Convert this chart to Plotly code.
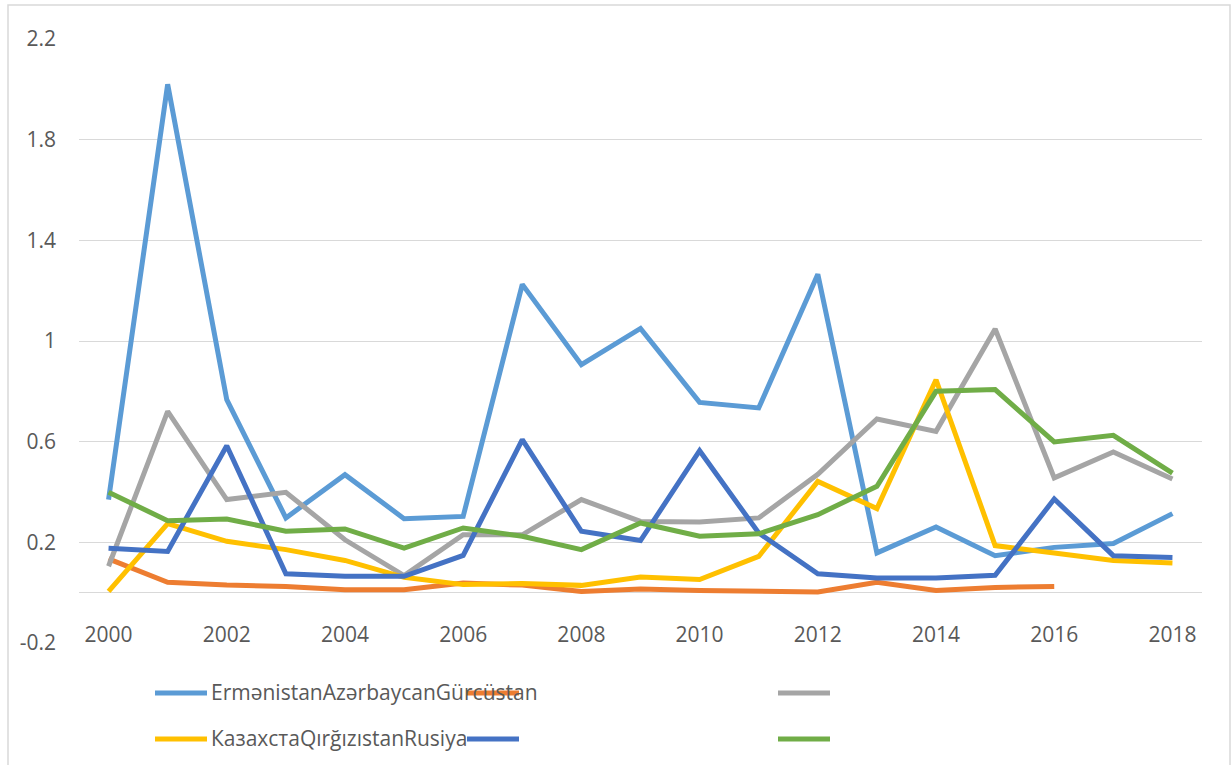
import plotly.graph_objects as go

years = list(range(2000, 2019))

ermenistan = [0.37, 2.02, 0.767, 0.297, 0.469, 0.294, 0.303, 1.225, 0.906, 1.05, 0.756, 0.734,
              1.265, 0.158, 0.261, 0.147, 0.18, 0.195, 0.314]
azerbaycan = [0.134, 0.041, 0.030, 0.025, 0.012, 0.012, 0.038, 0.03, 0.005, 0.015, 0.009, 0.005,
              0.003, 0.041, 0.009, 0.021, 0.025, None, None]
gurcustan = [0.105, 0.72, 0.37, 0.399, 0.21, 0.068, 0.23, 0.23, 0.37, 0.283, 0.281, 0.297,
             0.47, 0.69, 0.641, 1.048, 0.456, 0.559, 0.452]
kazaxstan = [0.005, 0.274, 0.204, 0.171, 0.128, 0.061, 0.032, 0.036, 0.029, 0.062, 0.052, 0.144,
             0.442, 0.334, 0.846, 0.187, 0.158, 0.128, 0.118]
qirgizistan = [0.176, 0.164, 0.584, 0.075, 0.065, 0.065, 0.148, 0.608, 0.244, 0.207, 0.564, 0.237,
               0.075, 0.058, 0.058, 0.069, 0.372, 0.147, 0.140]
rusiya = [0.399, 0.286, 0.293, 0.244, 0.253, 0.177, 0.257, 0.224, 0.171, 0.277, 0.224, 0.234,
          0.31, 0.423, 0.80, 0.807, 0.599, 0.625, 0.475]

y_ticks = [-0.2, 0.2, 0.6, 1, 1.4, 1.8, 2.2]
y_tick_text = ["-0.2", "0.2", "0.6", "1", "1.4", "1.8", "2.2"]
x_ticks = list(range(2000, 2019, 2))

series = [
    ("Ermənistan", ermenistan, "#5B9BD5"),
    ("Azərbaycan", azerbaycan, "#ED7D31"),
    ("Gürcüstan", gurcustan, "#A5A5A5"),
    ("Казахста", kazaxstan, "#FFC000"),
    ("Qırğızıstan", qirgizistan, "#4472C4"),
    ("Rusiya", rusiya, "#70AD47"),
]

FONT = "Open Sans"
TEXT_COLOR = "#595959"
GRID = "#D9D9D9"

fig = go.Figure()
for name, vals, color in series:
    fig.add_trace(go.Scatter(
        x=years, y=vals, name=name, mode="lines",
        line={"color": color, "width": 5},
        connectgaps=False, showlegend=False
    ))

# plot area is 1123 x 604 px (x 79..1202, y 39..643)
W, H = 1123.0, 604.0


def px_x(px):
    return (px - 79) / W


def px_y(py):
    return (643 - py) / H


shapes = [
    # chart border
    dict(type="rect", xref="paper", yref="paper",
         x0=px_x(8), x1=px_x(1230), y0=px_y(775), y1=px_y(5),
         line={"color": GRID, "width": 1.5}, layer="below"),
]

# hand-made legend (Excel layout with overlapping labels)
legend_rows = [
    (693, [("#5B9BD5", 155), ("#ED7D31", 467), ("#A5A5A5", 778)], "ErmənistanAzərbaycanGürcüstan"),
    (739, [("#FFC000", 155), ("#4472C4", 467), ("#70AD47", 778)], "КазахстаQırğızıstanRusiya"),
]
annotations = []
for row_y, samples, label in legend_rows:
    for color, x0 in samples:
        shapes.append(dict(type="line", xref="paper", yref="paper",
                           x0=px_x(x0), x1=px_x(x0 + 52), y0=px_y(row_y), y1=px_y(row_y),
                           line={"color": color, "width": 5}, layer="above"))
    annotations.append(dict(xref="paper", yref="paper", x=px_x(209), y=px_y(row_y - 1),
                            text=label, showarrow=False, xanchor="left", yanchor="middle",
                            font={"family": FONT, "size": 21, "color": TEXT_COLOR}))

fig.update_layout(
    width=1232, height=765,
    margin={"l": 79, "r": 30, "t": 39, "b": 122},
    paper_bgcolor="white", plot_bgcolor="white",
    font={"family": FONT, "size": 21, "color": TEXT_COLOR},
    shapes=shapes,
    annotations=annotations,
    showlegend=False,
)
fig.update_xaxes(
    range=[1999.5, 2018.5], tickvals=x_ticks, showgrid=False, zeroline=False,
    showline=False, ticks="", anchor="free", position=0.2 / 2.4,
    ticklabelstandoff=27, tickfont={"family": FONT, "size": 21, "color": TEXT_COLOR},
)
fig.update_yaxes(
    range=[-0.2, 2.2], tickvals=y_ticks, ticktext=y_tick_text,
    showgrid=True, gridcolor=GRID, gridwidth=1.3,
    zeroline=True, zerolinecolor=GRID, zerolinewidth=1.3,
    showline=False, ticks="", ticklabelstandoff=22,
    tickfont={"family": FONT, "size": 21, "color": TEXT_COLOR},
)

fig.write_html("out.html", config={"displayModeBar": False},
               post_script="document.body.style.margin='0';")
